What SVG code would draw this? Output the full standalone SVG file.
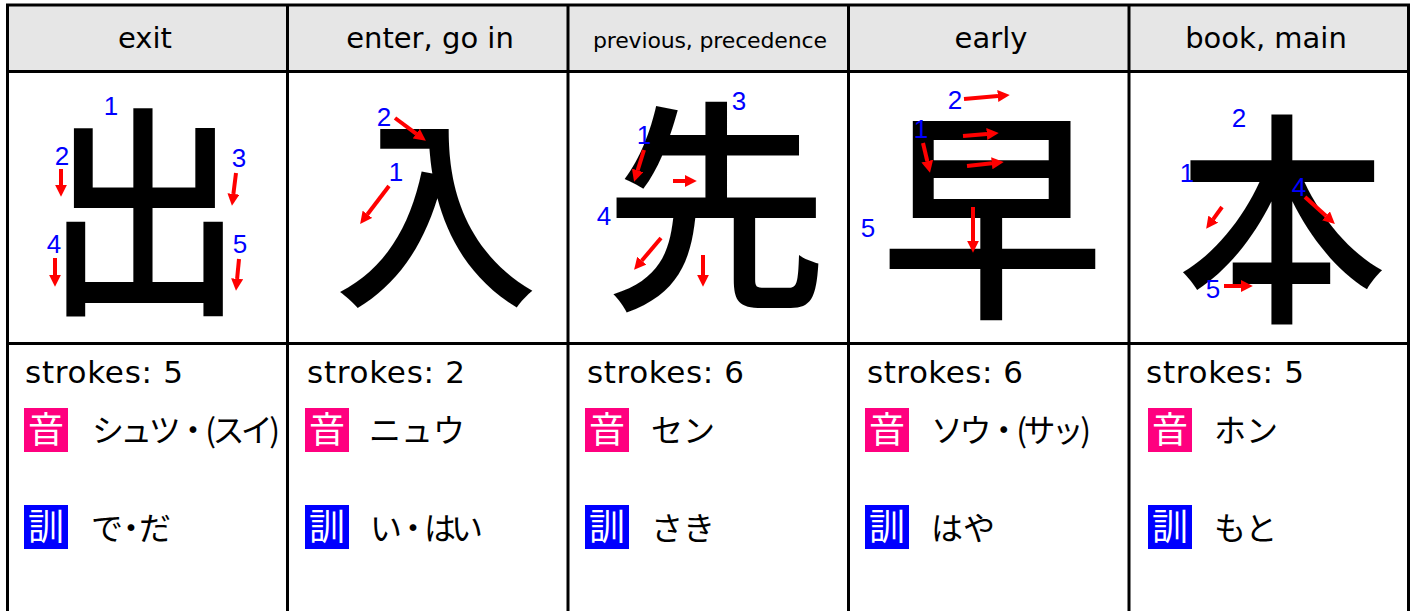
<svg xmlns="http://www.w3.org/2000/svg" width="1416" height="611" viewBox="0 0 1416 611">
<style>
.grid{stroke:#000;stroke-width:3;fill:none}
.hdr{font-family:"DejaVu Sans",sans-serif;font-size:29px;fill:#000;text-anchor:middle}
.kanji{font-family:"Noto Sans CJK JP",sans-serif;font-size:225px;font-weight:500;fill:#000;text-anchor:middle}
.num{font-family:"Liberation Sans",Arial,sans-serif;font-size:26px;fill:#0000ff;text-anchor:middle}
.arr{stroke:#ff0000;stroke-width:4;fill:none;marker-end:url(#ah)}
.strk{font-family:"DejaVu Sans",sans-serif;font-size:31px;fill:#000}
.rd{font-family:"Noto Sans CJK JP",sans-serif;font-size:32px;fill:#000}
.badge{font-family:"Noto Sans CJK JP",sans-serif;font-size:36px;fill:#fff;text-anchor:middle}
.on{fill:#ff007f}
.kun{fill:#0000ff}
</style>
<defs>
<marker id="ah" viewBox="0 0 3 3" markerWidth="3" markerHeight="3" markerUnits="strokeWidth" refX="0.05" refY="1.5" orient="auto">
<path d="M0,0 L3,1.5 L0,3 z" fill="#ff0000"/>
</marker>
</defs>
<rect width="1416" height="611" fill="#fff"/>
<g id="table">
<rect x="7.5" y="5" width="1401" height="66.5" fill="#e6e6e6"/>
<line class="grid" x1="6" y1="5" x2="1410" y2="5" stroke="#333"/>
<line class="grid" x1="6" y1="71.5" x2="1410" y2="71.5"/>
<line class="grid" x1="6" y1="343.5" x2="1410" y2="343.5"/>
<line class="grid" x1="7.5" y1="4" x2="7.5" y2="611"/>
<line class="grid" x1="287.5" y1="4" x2="287.5" y2="611"/>
<line class="grid" x1="568" y1="4" x2="568" y2="611"/>
<line class="grid" x1="848.5" y1="4" x2="848.5" y2="611"/>
<line class="grid" x1="1129" y1="4" x2="1129" y2="611"/>
<line class="grid" x1="1408.5" y1="4" x2="1408.5" y2="611"/>
</g>

<g id="col-exit">
<text class="hdr" x="145" y="48">exit</text>
<text class="kanji" transform="translate(144,0) scale(0.88,1)" x="0" y="297">出</text>
<text class="num" x="111" y="115">1</text>
<text class="num" x="62" y="165">2</text>
<text class="num" x="239" y="167">3</text>
<text class="num" x="54" y="253">4</text>
<text class="num" x="240" y="253">5</text>
<text class="strk" x="25" y="383" textLength="158">strokes: 5</text>
<rect class="on" x="24" y="408" width="44" height="44"/>
<text class="badge" x="46" y="443">音</text>
<text class="rd" x="92" y="442" textLength="188">シュツ・(スイ)</text>
<rect class="kun" x="24" y="505" width="44" height="44"/>
<text class="badge" x="46" y="540">訓</text>
<text class="rd" x="91" y="540" textLength="80">で・だ</text>
</g>

<g id="col-enter">
<text class="hdr" x="430" y="48">enter, go in</text>
<text class="kanji" x="436" y="290" style="font-size:205px">入</text>
<text class="num" x="384" y="126">2</text>
<text class="num" x="396" y="181">1</text>
<text class="strk" x="307" y="383" textLength="158">strokes: 2</text>
<rect class="on" x="305" y="408" width="44" height="44"/>
<text class="badge" x="327" y="443">音</text>
<text class="rd" x="369" y="442">ニュウ</text>
<rect class="kun" x="305" y="505" width="44" height="44"/>
<text class="badge" x="327" y="540">訓</text>
<text class="rd" x="370" y="540" textLength="113">い・はい</text>
</g>

<g id="col-previous">
<text class="hdr" x="710" y="48" style="font-size:22px" textLength="234">previous, precedence</text>
<text class="kanji" x="716" y="292">先</text>
<text class="num" x="739" y="110">3</text>
<text class="num" x="644" y="144">1</text>
<text class="num" x="604" y="225">4</text>
<text class="strk" x="587" y="383" textLength="157">strokes: 6</text>
<rect class="on" x="585" y="408" width="44" height="44"/>
<text class="badge" x="607" y="443">音</text>
<text class="rd" x="651" y="442">セン</text>
<rect class="kun" x="585" y="505" width="44" height="44"/>
<text class="badge" x="607" y="540">訓</text>
<text class="rd" x="651" y="540">さき</text>
</g>

<g id="col-early">
<text class="hdr" x="991" y="48">early</text>
<text class="kanji" x="992" y="301">早</text>
<text class="num" x="955" y="109">2</text>
<text class="num" x="921" y="138">1</text>
<text class="num" x="868" y="237">5</text>
<text class="strk" x="867" y="383" textLength="156">strokes: 6</text>
<rect class="on" x="865" y="408" width="44" height="44"/>
<text class="badge" x="887" y="443">音</text>
<text class="rd" x="931" y="442" textLength="160">ソウ・(サッ)</text>
<rect class="kun" x="865" y="505" width="44" height="44"/>
<text class="badge" x="887" y="540">訓</text>
<text class="rd" x="931" y="540">はや</text>
</g>

<g id="col-book">
<text class="hdr" x="1266" y="48">book, main</text>
<text class="kanji" transform="translate(1282,0) scale(0.93,1)" x="0" y="305">本</text>
<text class="num" x="1239" y="127">2</text>
<text class="num" x="1187" y="182">1</text>
<text class="num" x="1299" y="196">4</text>
<text class="num" x="1213" y="298">5</text>
<text class="strk" x="1146" y="383" textLength="158">strokes: 5</text>
<rect class="on" x="1148" y="408" width="44" height="44"/>
<text class="badge" x="1170" y="443">音</text>
<text class="rd" x="1214" y="442">ホン</text>
<rect class="kun" x="1148" y="505" width="44" height="44"/>
<text class="badge" x="1170" y="540">訓</text>
<text class="rd" x="1214" y="540">もと</text>
</g>

<g id="connectors">
<path class="arr" d="M61,169 L61,185"/>
<path class="arr" d="M236,173 L233.4,194.1"/>
<path class="arr" d="M55,258 L55,275"/>
<path class="arr" d="M239,259 L237.1,279"/>
<path class="arr" d="M395,118 L416.4,133.8"/>
<path class="arr" d="M389,186 L367.3,214.5"/>
<path class="arr" d="M644,150 L637.6,170.5"/>
<path class="arr" d="M673,181 L685,181"/>
<path class="arr" d="M661,238 L641.7,260.8"/>
<path class="arr" d="M703,255 L703,275"/>
<path class="arr" d="M964,99 L998,96"/>
<path class="arr" d="M923,143 L927.3,161.3"/>
<path class="arr" d="M963,136 L987,134"/>
<path class="arr" d="M967,166 L992,163.3"/>
<path class="arr" d="M973,207 L973,241"/>
<path class="arr" d="M1222,207 L1213.1,219.3"/>
<path class="arr" d="M1305,197 L1326.1,216"/>
<path class="arr" d="M1224,286 L1241,286"/>
</g>
</svg>
